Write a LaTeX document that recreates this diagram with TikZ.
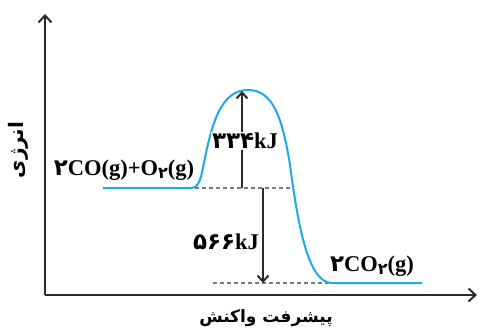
\documentclass[tikz,border=0pt]{standalone}
\usepackage{fontspec}
\setmainfont{Liberation Serif}
\newfontfamily\fa[Script=Arabic]{DejaVu Sans}
\TeXXeTstate=1
\usetikzlibrary{positioning, arrows.meta, calc}
\definecolor{curveblue}{HTML}{1EA8E4}
\definecolor{dashgray}{HTML}{7A7A7A}
\definecolor{darkline}{HTML}{2B2B2B}
\newcommand{\fasub}[1]{\raisebox{-0.35ex}{\fontsize{16}{16}\selectfont\fa #1}}
\newcommand{\fadig}[1]{{\fontsize{23}{23}\selectfont\fa #1}}

\begin{document}
\begin{tikzpicture}[x=1pt, y=-1pt, font=\fontsize{22.5}{24}\selectfont\bfseries,
  axis/.style={darkline, line width=2pt, -{Straight Barb[length=7pt, width=13pt, line width=2pt]}},
  gap/.style={darkline, line width=2pt, -{Straight Barb[length=6pt, width=11pt, line width=2pt]}},
  level/.style={dashgray, line width=1.1pt, dash pattern=on 4pt off 3pt},
  lbl/.style={inner sep=1pt},
  falbl/.style={inner sep=1pt, font=\fontsize{17}{19}\selectfont\bfseries\fa}]
  \useasboundingbox (0,0) rectangle (479,329);
  % axes
  \coordinate (o) at (45,295);
  \coordinate (ytop) at (45,14);
  \coordinate (xend) at (477,295);
  \draw[axis] (o) -- (ytop);
  \draw[axis] (o) -- (xend);
  \node[falbl, rotate=90, font=\fontsize{20}{22}\selectfont\bfseries\fa] (ylab) at (18,150) {\beginR انرژی\endR};
  \node[falbl] (xlab) at (266,318) {\beginR پیشرفت واکنش\endR};
  % energy levels (dashed)
  \coordinate (r-a) at (195,188);
  \coordinate (r-b) at (290,188);
  \coordinate (p-a) at (213,283);
  \coordinate (p-b) at (330,283);
  \draw[level] (r-a) -- (r-b);
  \draw[level] (p-a) -- (p-b);
  % reaction path
  \draw[curveblue, line width=2pt] (103,188) -- (190,188)
    .. controls (198,188) and (200,182) .. (203,168)
    .. controls (212,120) and (222,90) .. (248,90)
    .. controls (272,90) and (282,115) .. (290,165)
    .. controls (298,225) and (308,283) .. (332,283) -- (422,283);
  % activation energy and enthalpy
  \coordinate (ea-from) at (242,188);
  \coordinate (ea-to) at (242,91);
  \coordinate (dh-from) at (263,188);
  \coordinate (dh-to) at (263,283);
  \draw[gap] (ea-from) -- (ea-to);
  \draw[gap] (dh-from) -- (dh-to);
  \node[lbl, fill=white] (ea) at (245,141) {\fadig{۳۳۴}kJ};
  \node[lbl] (dh) at (226,242) {\fadig{۵۶۶}kJ};
  % species
  \node[lbl] (react) at (124,170) {\fadig{۲}CO(g)+O\fasub{۲}(g)};
  \node[lbl] (prod) at (372,266) {\fadig{۲}CO\fasub{۲}(g)};
\end{tikzpicture}
\end{document}
